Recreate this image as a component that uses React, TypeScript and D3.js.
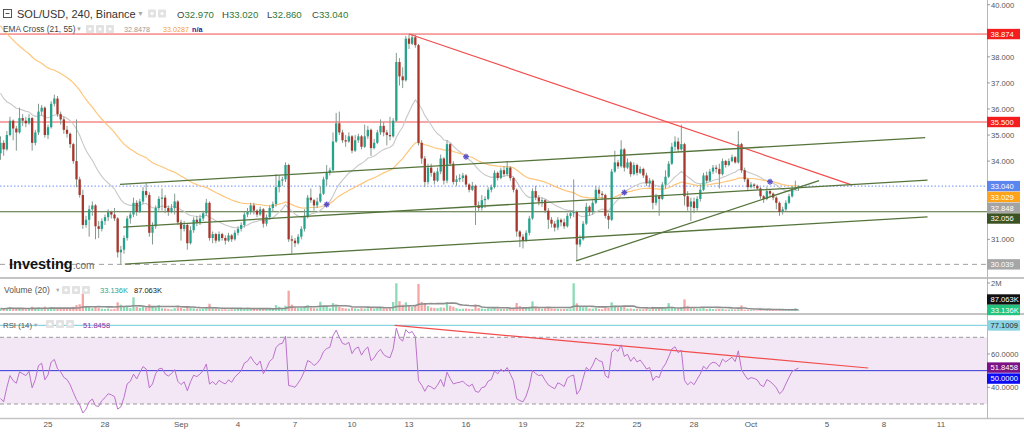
import React from "react";
import * as d3 from "d3";

// ---------- DATA ----------
const START_UTC = Date.UTC(2022, 7, 22, 12); // first 4h candle
const STEP_MS = 4 * 3600 * 1000;
const firstOpen = 34.3;

const closes = [
  34.70,34.45,35.00,35.55,35.25,35.10,35.65,35.55,35.45,35.65,
  34.70,35.10,35.90,36.05,35.00,35.30,36.20,36.40,35.80,35.60,
  35.20,35.05,34.65,34.00,33.30,32.70,31.55,31.75,32.15,32.30,
  31.50,31.40,31.70,31.85,32.05,31.95,31.80,30.50,30.60,31.05,
  31.80,31.95,32.40,32.05,32.45,32.85,32.70,31.25,31.50,32.20,
  32.55,32.60,32.20,32.05,32.20,32.45,31.65,31.40,31.55,30.85,
  31.35,31.75,31.65,31.80,32.00,32.40,31.05,31.20,30.95,31.20,
  31.05,30.95,31.15,31.00,31.25,31.40,31.55,31.95,32.05,32.30,
  32.10,31.95,32.15,31.60,31.85,32.20,32.35,33.00,33.25,33.30,
  33.85,31.00,30.95,30.85,31.10,31.40,31.85,32.60,32.50,32.30,
  32.45,32.75,33.30,33.55,33.65,34.75,35.45,35.10,34.80,34.75,
  34.95,34.40,34.80,34.95,34.55,34.95,35.20,34.50,34.70,35.10,
  35.35,35.10,35.00,34.95,35.55,37.80,37.25,37.10,38.70,38.50,
  38.75,38.45,34.70,34.10,33.20,33.75,33.55,33.25,33.60,34.10,
  33.25,34.65,33.90,33.20,33.30,33.35,33.45,33.10,32.90,33.05,
  32.30,32.20,32.50,32.55,32.90,33.00,33.55,33.35,33.65,33.50,
  33.75,33.35,32.90,31.30,31.10,30.95,31.25,31.80,32.85,32.60,
  32.45,32.50,32.10,31.75,31.60,31.45,31.75,31.65,31.50,31.90,
  32.00,32.05,30.80,31.00,31.60,32.25,32.05,32.40,32.90,32.75,
  32.70,31.90,31.75,33.60,33.95,33.80,34.45,33.75,33.95,33.50,
  33.85,33.55,33.70,33.45,33.15,33.25,32.40,32.65,32.55,33.10,
  33.40,33.90,34.55,34.75,34.45,34.65,32.65,32.25,32.45,32.20,
  32.55,32.90,33.45,33.25,33.60,33.75,33.70,33.50,34.00,33.85,
  34.00,34.15,33.95,34.65,33.65,33.30,33.00,33.10,33.05,32.95,
  32.65,32.55,32.85,32.75,32.60,32.40,32.05,32.15,32.40,32.65,
  32.90,32.97,33.04,
];

const highs = [
  34.95,34.80,35.15,35.70,35.60,35.35,36.05,35.80,35.70,35.80,
  35.70,35.20,36.20,36.15,36.10,35.40,36.30,36.55,36.50,35.90,
  35.70,35.35,35.10,34.70,35.60,33.40,32.90,31.90,32.30,32.45,
  32.35,31.70,31.80,31.95,32.15,32.10,32.20,31.85,30.75,31.15,
  31.90,32.05,32.60,32.50,32.55,33.00,33.15,32.80,31.65,32.30,
  32.65,32.95,32.70,32.30,32.35,32.75,32.50,31.75,31.70,31.60,
  31.50,31.85,31.90,31.95,32.10,32.55,32.45,31.30,31.25,31.30,
  31.25,31.15,31.25,31.20,31.35,31.50,31.65,32.05,32.20,32.40,
  32.40,32.15,32.25,32.20,31.95,32.30,32.45,33.50,33.45,33.40,
  33.95,33.90,31.15,31.05,31.20,31.50,32.15,32.70,32.95,32.55,
  32.60,33.05,33.40,33.85,33.75,35.10,35.85,35.90,35.20,35.00,
  35.10,35.00,35.00,35.05,35.00,35.40,35.35,35.25,34.85,35.20,
  35.60,35.50,35.20,35.70,35.65,38.15,37.95,37.60,38.80,38.85,
  38.874,38.85,38.50,34.80,34.20,33.90,33.90,33.60,33.75,34.25,
  34.15,34.80,34.70,34.00,33.45,33.50,33.55,33.50,33.15,33.20,
  33.10,32.45,32.70,32.65,33.00,33.10,33.65,33.60,33.75,33.80,
  34.00,33.80,33.40,32.95,31.35,31.20,31.35,31.90,32.95,33.05,
  32.70,32.60,32.55,32.20,31.85,31.70,31.85,31.80,31.80,32.00,
  32.10,33.30,32.10,31.15,31.70,32.40,32.30,32.50,33.05,33.00,
  32.85,32.75,32.00,33.70,34.40,34.05,34.80,34.50,34.10,34.00,
  33.95,33.90,33.80,33.75,33.55,33.35,33.30,32.75,32.70,33.20,
  33.65,34.00,34.70,34.95,34.90,35.40,34.70,32.85,32.60,32.60,
  32.65,33.10,33.55,33.60,33.70,33.85,33.85,33.90,34.10,34.05,
  34.10,34.25,34.20,35.15,34.70,33.75,33.35,33.20,33.15,33.10,
  33.00,32.70,33.00,32.90,32.80,32.65,32.45,32.25,32.50,32.75,
  33.05,33.25,33.06,
];

const lows = [
  34.05,34.20,34.40,34.95,34.80,34.40,35.05,35.35,35.30,35.40,
  34.40,34.60,35.00,35.75,34.90,34.85,35.25,36.10,35.70,35.40,
  35.05,34.90,34.50,33.90,33.00,32.60,31.40,31.45,31.10,31.90,
  31.00,31.05,31.30,31.55,31.70,31.80,31.70,30.30,30.04,30.45,
  30.95,31.60,31.85,31.90,32.00,32.35,32.60,31.10,30.80,31.40,
  32.10,32.10,32.00,31.90,32.00,31.95,31.55,30.95,31.30,30.60,
  30.80,31.25,31.50,31.55,31.70,31.90,30.95,30.85,30.85,30.90,
  30.95,30.80,30.90,30.90,30.95,31.15,31.30,31.45,31.85,31.95,
  31.95,31.85,31.90,31.45,31.50,31.75,32.05,32.25,32.80,33.05,
  33.20,30.90,30.45,30.70,30.80,31.00,31.30,31.80,32.40,32.10,
  32.20,32.40,32.70,33.05,33.45,33.60,34.70,35.00,34.70,34.55,
  34.70,34.30,34.35,34.70,34.45,34.50,34.85,34.20,34.45,34.65,
  35.00,34.95,34.60,34.80,34.90,35.50,36.90,36.80,37.05,38.30,
  38.45,38.35,34.60,33.90,33.00,33.10,33.40,33.10,33.20,33.50,
  33.10,33.15,33.80,33.10,33.05,33.20,33.20,33.00,32.80,32.85,
  31.55,32.05,32.10,32.20,32.50,32.80,32.95,33.25,33.30,33.40,
  33.45,33.25,32.80,31.10,30.70,30.65,30.90,31.15,31.75,32.50,
  32.30,32.25,32.00,31.40,31.45,31.30,31.35,31.50,31.40,31.45,
  31.80,31.85,30.21,30.70,30.95,31.55,31.90,31.95,32.35,32.60,
  32.50,31.80,31.40,31.70,33.55,33.70,33.75,33.60,33.70,33.40,
  33.45,33.45,33.50,33.35,33.05,33.00,32.15,32.30,31.90,32.50,
  32.95,33.35,33.85,34.40,34.35,34.40,32.30,32.10,31.70,32.00,
  32.10,32.45,32.85,33.15,33.20,33.50,33.55,32.95,33.45,33.75,
  33.80,33.95,33.90,33.90,33.55,33.20,32.85,32.95,32.95,32.90,
  32.55,32.40,32.50,32.65,32.50,32.15,31.90,31.95,32.05,32.35,
  32.60,32.90,32.86,
];

// volume in thousands
const volumesK = [
  180,150,220,260,170,140,230,160,120,150,
  300,200,260,150,310,170,280,240,200,160,
  180,150,220,300,420,480,1260,350,300,200,
  330,220,160,140,180,120,150,620,450,280,
  350,200,980,300,220,330,250,480,300,250,
  430,200,180,150,120,200,260,220,150,330,
  250,200,140,130,160,220,520,200,150,130,
  110,120,100,110,130,150,170,200,180,190,
  150,120,140,200,150,170,200,420,300,220,
  380,1450,450,250,200,220,280,420,250,200,
  180,660,320,300,200,560,450,300,220,180,
  160,250,180,150,200,170,190,230,150,200,
  250,180,160,200,640,1980,700,450,620,380,
  300,350,1930,650,500,350,250,220,200,260,
  230,640,380,300,200,150,160,180,150,140,
  450,220,180,150,200,160,250,170,160,150,
  180,160,220,570,350,250,200,300,690,300,
  200,160,200,250,180,160,150,130,140,150,
  130,1980,550,300,250,280,180,170,220,150,
  130,260,220,620,380,250,300,280,170,180,
  150,140,120,130,150,120,300,180,200,210,
  240,560,300,200,180,250,830,350,280,200,
  160,170,260,150,180,140,120,150,160,110,
  100,120,110,120,400,90,90,60,50,45,
  60,55,60,60,90,60,60,38,50,60,
  60,200,33.136,
];

const ema21Seed = 36.6;
const ema55Seed = 39.2;
const rsiSeedGain = 0.1;
const rsiSeedLoss = 0.2;

const xTickDates = [
  "2022-08-25","2022-08-28","2022-09-01","2022-09-04","2022-09-07","2022-09-10",
  "2022-09-13","2022-09-16","2022-09-19","2022-09-22","2022-09-25","2022-09-28",
  "2022-10-01","2022-10-05","2022-10-08","2022-10-11",
];
const xTickLabels = ["25","28","Sep","4","7","10","13","16","19","22","25","28","Oct","5","8","11"];
const priceTicks = [40, 38, 37, 36, 35, 34, 31];
const rsiTicks = [60, 40];
const volumeTicks = [2000];
const volumeTickLabels = ["2M"];

const hLevels = [
  { v: 38.874, color: "#f24d4d", dash: "", w: 1 },
  { v: 35.5, color: "#f24d4d", dash: "", w: 1 },
  { v: 33.04, color: "#6f8fff", dash: "1.5 2", w: 1 },
  { v: 32.056, color: "#4d6b34", dash: "", w: 1.2 },
  { v: 30.039, color: "#a0a0a0", dash: "5 4", w: 1 },
];

const redTrend = [
  { t: "2022-09-13T00:00Z", v: 38.874 },
  { t: "2022-10-06T08:00Z", v: 33.08 },
];
const channelUpper = [
  { t: "2022-08-28T19:00Z", v: 33.11 },
  { t: "2022-10-10T04:00Z", v: 34.9 },
];
const channelMiddle = [
  { t: "2022-08-28T23:00Z", v: 31.47 },
  { t: "2022-10-10T07:00Z", v: 33.27 },
];
const channelLower = [
  { t: "2022-08-29T01:00Z", v: 30.05 },
  { t: "2022-10-10T07:00Z", v: 31.86 },
];
const risingLine = [
  { t: "2022-09-21T19:00Z", v: 30.17 },
  { t: "2022-10-04T14:00Z", v: 33.25 },
];
const rsiTrend = [
  { t: "2022-09-12T06:00Z", v: 77.1 },
  { t: "2022-10-07T04:00Z", v: 51.6 },
];

const priceLabels = [
  { v: 38.874, text: "38.874", bg: "#f41c1c", fg: "#fff" },
  { v: 35.5, text: "35.500", bg: "#f41c1c", fg: "#fff" },
  { v: 33.04, text: "33.040", bg: "#5b86f0", fg: "#fff" },
  { v: 33.029, text: "33.029", bg: "#ffa31a", fg: "#fff" },
  { v: 32.848, text: "32.848", bg: "#a3a3a3", fg: "#fff" },
  { v: 32.056, text: "32.056", bg: "#3b5323", fg: "#fff" },
  { v: 30.039, text: "30.039", bg: "#a6a6a6", fg: "#fff" },
];
const volumeLabels = [
  { v: 87.063, text: "87.063K", bg: "#111", fg: "#fff" },
  { v: 33.136, text: "33.136K", bg: "#22c47e", fg: "#fff" },
];
const rsiLabels = [
  { v: 77.1009, text: "77.1009", bg: "#8ad3e3", fg: "#222" },
  { v: 51.8458, text: "51.8458", bg: "#7b1184", fg: "#fff" },
  { v: 50, text: "50.0000", bg: "#0b0bf5", fg: "#fff" },
];

const FONT = "'Liberation Sans', Arial, Helvetica, sans-serif";

function stack(items: any[], gap: number, maxY?: number) {
  const s = items.map((d) => ({ ...d })).sort((a, b) => a.y - b.y);
  for (let k = 1; k < s.length; k++) if (s[k].y < s[k - 1].y + gap) s[k].y = s[k - 1].y + gap;
  if (maxY !== undefined && s.length && s[s.length - 1].y > maxY) {
    const d = s[s.length - 1].y - maxY;
    s.forEach((o) => (o.y -= d));
  }
  return s;
}

function LegendBoxes({ x, y, n }: { x: number; y: number; n: number }) {
  return (
    <g>
      {d3.range(n).map((k) => (
        <g key={k}>
          <rect x={x + k * 10} y={y} width={8} height={8} rx={1} fill="#e2e2e2" />
          <circle cx={x + k * 10 + 4} cy={y + 4} r={1.6} fill="#fff" />
        </g>
      ))}
    </g>
  );
}

export default function App() {
  const W = 1024, H = 432;
  const R = 987; // plot right edge
  const n = closes.length;
  const times = closes.map((_, i) => new Date(START_UTC + i * STEP_MS));
  const opens = closes.map((c, i) => (i === 0 ? firstOpen : closes[i - 1]));

  const x = d3.scaleUtc()
    .domain([new Date(Date.UTC(2022, 7, 25)), new Date(Date.UTC(2022, 9, 11))])
    .range([48, 941]);
  const yP = d3.scaleLinear().domain([40, 31]).range([4.7, 239.3]);
  const yV = d3.scaleLinear().domain([0, 2000]).range([311, 283]);
  const yR = d3.scaleLinear().domain([30, 70]).range([404, 337.3]);

  const emaCalc = (seed: number, period: number) => {
    const a = 2 / (period + 1);
    let e = seed;
    return closes.map((c, i) => {
      if (i > 0) e = a * c + (1 - a) * e;
      return e;
    });
  };
  const ema21 = emaCalc(ema21Seed, 21);
  const ema55 = emaCalc(ema55Seed, 55);

  let ag = rsiSeedGain, al = rsiSeedLoss;
  const rsi = closes.map((c, i) => {
    if (i > 0) {
      const ch = c - closes[i - 1];
      ag = (ag * 13 + Math.max(ch, 0)) / 14;
      al = (al * 13 + Math.max(-ch, 0)) / 14;
    }
    return 100 - 100 / (1 + ag / al);
  });

  const volMA = volumesK.map((_, i) => {
    const s = volumesK.slice(Math.max(0, i - 19), i + 1);
    return d3.mean(s) as number;
  });

  const crosses: { i: number }[] = [];
  for (let i = 1; i < n; i++) {
    const a = ema21[i - 1] - ema55[i - 1];
    const b = ema21[i] - ema55[i];
    if ((a < 0 && b >= 0) || (a > 0 && b <= 0)) crosses.push({ i });
  }

  const lineP = d3.line<number>().x((_, i) => x(times[i])).y((d) => yP(d));
  const lineR = d3.line<number>().x((_, i) => x(times[i])).y((d) => yR(d));
  const lineV = d3.line<number>().x((_, i) => x(times[i])).y((d) => yV(d));

  const seg = (pts: { t: string; v: number }[], ys: any) =>
    ({ x1: x(new Date(pts[0].t)), y1: ys(pts[0].v), x2: x(new Date(pts[1].t)), y2: ys(pts[1].v) });

  const bw = 2.3;
  const upC = "#26a38d", dnC = "#a8362c", wickC = "#859a8e";

  const pl = stack(priceLabels.map((d) => ({ ...d, y: yP(d.v) })), 10.8);
  const vl = stack(volumeLabels.map((d) => ({ ...d, y: yV(d.v) })), 10.5, 310);
  const rl = stack(rsiLabels.map((d) => ({ ...d, y: yR(d.v) })), 11);

  const fmt3 = d3.format(".3f");
  const fmt4 = d3.format(".4f");

  const axisLabel = (d: any, k: number) => (
    <g key={k}>
      <rect x={R} y={d.y - 5.2} width={33} height={10.4} fill={d.bg} />
      <text x={R + 3.5} y={d.y + 2.8} fontSize={7.6} fill={d.fg} fontFamily={FONT}>{d.text}</text>
    </g>
  );

  const drawSeg = (s: any, color: string, w = 1.2, key?: string) => (
    <line key={key} x1={s.x1} y1={s.y1} x2={s.x2} y2={s.y2} stroke={color} strokeWidth={w} />
  );

  return (
    <svg width={W} height={H} style={{ position: "fixed", left: 0, top: 0, background: "#fff" }} fontFamily={FONT}>
      <defs>
        <clipPath id="cMain"><rect x={0} y={0} width={R} height={277} /></clipPath>
        <clipPath id="cVol"><rect x={0} y={279} width={R} height={34} /></clipPath>
        <clipPath id="cRsi"><rect x={0} y={315} width={R} height={103} /></clipPath>
      </defs>
      <rect x={0} y={0} width={W} height={H} fill="#fff" />

      {/* ---------- MAIN PANE ---------- */}
      <g clipPath="url(#cMain)">
        {hLevels.map((h, k) => (
          <line key={k} x1={0} x2={R} y1={yP(h.v)} y2={yP(h.v)} stroke={h.color} strokeWidth={h.w} strokeDasharray={h.dash || undefined} />
        ))}
        <path d={lineP(ema21) || ""} fill="none" stroke="#c8c8c8" strokeWidth={1.1} />
        <path d={lineP(ema55) || ""} fill="none" stroke="#ffc57a" strokeWidth={1.2} />
        {closes.map((c, i) => {
          const o = opens[i];
          const hi = Math.max(highs[i], o, c);
          const lo = Math.min(lows[i], o, c);
          const cx = x(times[i]);
          const top = yP(Math.max(o, c));
          const bh = Math.max(0.9, Math.abs(yP(o) - yP(c)));
          return (
            <g key={i}>
              <line x1={cx} x2={cx} y1={yP(hi)} y2={yP(lo)} stroke={wickC} strokeWidth={1} />
              <rect x={cx - bw / 2} y={top} width={bw} height={bh} fill={c >= o ? upC : dnC} />
            </g>
          );
        })}
        {drawSeg(seg(redTrend, yP), "#f24d4d", 1.2, "rt")}
        {drawSeg(seg(channelUpper, yP), "#55743b", 1.3, "cu")}
        {drawSeg(seg(channelMiddle, yP), "#55743b", 1.3, "cm")}
        {drawSeg(seg(channelLower, yP), "#55743b", 1.3, "cl")}
        {drawSeg(seg(risingLine, yP), "#55743b", 1.3, "rl")}
        {crosses.map(({ i }, k) => {
          const cx = x(times[i]);
          const cy = yP(ema21[i]);
          return (
            <g key={k} stroke="#5a52c8" strokeWidth={1.3}>
              <line x1={cx - 3} x2={cx + 3} y1={cy} y2={cy} />
              <line x1={cx} x2={cx} y1={cy - 3} y2={cy + 3} />
              <line x1={cx - 2} x2={cx + 2} y1={cy - 2} y2={cy + 2} />
              <line x1={cx - 2} x2={cx + 2} y1={cy + 2} y2={cy - 2} />
            </g>
          );
        })}
      </g>

      {/* Investing.com logo */}
      <text x={9} y={269} fontSize={14.5} fontWeight="bold" fill="#111" fontFamily={FONT}>
        Investing<tspan fontSize={10} fontWeight="normal" fill="#666">.com</tspan>
      </text>

      {/* legends main */}
      <rect x={3.5} y={9.5} width={8} height={8} fill="none" stroke="#555" strokeWidth={1} />
      <line x1={5.5} x2={9.5} y1={13.5} y2={13.5} stroke="#555" strokeWidth={1} />
      <text x={17} y={18} fontSize={11} fill="#333">SOL/USD, 240, Binance</text>
      <text x={137} y={16} fontSize={7} fill="#aaa">▼</text>
      <LegendBoxes x={148} y={9.5} n={2} />
      {[
        ["O", "32.970", 177],
        ["H", "33.020", 222],
        ["L", "32.860", 267],
        ["C", "33.040", 312],
      ].map(([l, v, px]) => (
        <text key={l as string} x={px as number} y={18} fontSize={9.6}>
          <tspan fill="#444">{l}</tspan>
          <tspan fill="#2f7a3a">{v}</tspan>
        </text>
      ))}
      <text x={3} y={32} fontSize={8.3} fill="#444">EMA Cross (21, 55)</text>
      <text x={76} y={31} fontSize={6} fill="#aaa">▼</text>
      <LegendBoxes x={86} y={25} n={3} />
      <text x={124} y={32} fontSize={7.2} fill="#9a9a9a">32.8478</text>
      <text x={163} y={32} fontSize={7.2} fill="#f5a21e">33.0287</text>
      <text x={192} y={32} fontSize={7.2} fill="#1c1c9c" fontWeight="bold">n/a</text>

      {/* ---------- VOLUME PANE ---------- */}
      <g clipPath="url(#cVol)">
        {volumesK.map((v, i) => {
          const cx = x(times[i]);
          const up = closes[i] >= opens[i];
          return (
            <rect key={i} x={cx - bw / 2} y={yV(v)} width={bw} height={Math.max(0.5, yV(0) - yV(v))}
              fill={up ? "#8adbb6" : "#f6a5a5"} />
          );
        })}
        <path d={lineV(volMA) || ""} fill="none" stroke="#8e8e8e" strokeWidth={1.6} />
      </g>
      <text x={4} y={293} fontSize={8.5} fill="#555">Volume (20)</text>
      <text x={55} y={292} fontSize={5.5} fill="#aaa">▼</text>
      <LegendBoxes x={62} y={286} n={3} />
      <text x={100} y={293} fontSize={7.5} fill="#26a69a">33.136K</text>
      <text x={134} y={293} fontSize={7.5} fill="#222">87.063K</text>

      {/* ---------- RSI PANE ---------- */}
      <g clipPath="url(#cRsi)">
        <rect x={0} y={yR(70)} width={R} height={yR(30) - yR(70)} fill="#f3e7f5" />
        <line x1={0} x2={R} y1={yR(70)} y2={yR(70)} stroke="#9a9a9a" strokeDasharray="4 3" />
        <line x1={0} x2={R} y1={yR(30)} y2={yR(30)} stroke="#9a9a9a" strokeDasharray="4 3" />
        <line x1={0} x2={R} y1={yR(50)} y2={yR(50)} stroke="#3535d8" strokeWidth={1} />
        <line x1={0} x2={R} y1={yR(77.1009)} y2={yR(77.1009)} stroke="#8ad3e3" strokeWidth={1.2} />
        {drawSeg(seg(rsiTrend, yR), "#f24d4d", 1.2, "rsiT")}
        <path d={lineR(rsi) || ""} fill="none" stroke="#bb72cc" strokeWidth={1} />
      </g>
      <text x={3} y={328} fontSize={7.8} fill="#555">RSI (14)</text>
      <text x={33} y={327} fontSize={5.5} fill="#aaa">▼</text>
      <LegendBoxes x={46} y={320} n={3} />
      <text x={83} y={328} fontSize={7.5} fill="#8e2f9e">51.8458</text>

      {/* ---------- separators & axes ---------- */}
      <line x1={0} x2={W} y1={278} y2={278} stroke="#c4c4c4" strokeWidth={2} />
      <line x1={0} x2={W} y1={314} y2={314} stroke="#c4c4c4" strokeWidth={2} />
      <line x1={0} x2={W} y1={418.5} y2={418.5} stroke="#c4c4c4" strokeWidth={1.5} />
      <line x1={R + 0.5} x2={R + 0.5} y1={0} y2={419} stroke="#b8b8b8" strokeWidth={1} />

      {priceTicks.map((v) => (
        <g key={v}>
          <line x1={R} x2={R + 3} y1={yP(v)} y2={yP(v)} stroke="#999" />
          <text x={R + 4} y={yP(v) + 2.8} fontSize={7.6} fill="#555">{fmt3(v)}</text>
        </g>
      ))}
      {volumeTicks.map((v, k) => (
        <g key={v}>
          <line x1={R} x2={R + 3} y1={yV(v)} y2={yV(v)} stroke="#999" />
          <text x={R + 4} y={yV(v) + 2.8} fontSize={7.6} fill="#555">{volumeTickLabels[k]}</text>
        </g>
      ))}
      {rsiTicks.map((v) => (
        <g key={v}>
          <line x1={R} x2={R + 3} y1={yR(v)} y2={yR(v)} stroke="#999" />
          <text x={R + 4} y={yR(v) + 2.8} fontSize={7.6} fill="#555">{fmt4(v)}</text>
        </g>
      ))}
      {pl.map(axisLabel)}
      {vl.map(axisLabel)}
      {rl.map(axisLabel)}

      {xTickDates.map((d, k) => (
        <text key={d} x={x(new Date(d + "T00:00Z"))} y={427} fontSize={8} fill="#555" textAnchor="middle">
          {xTickLabels[k]}
        </text>
      ))}
    </svg>
  );
}
